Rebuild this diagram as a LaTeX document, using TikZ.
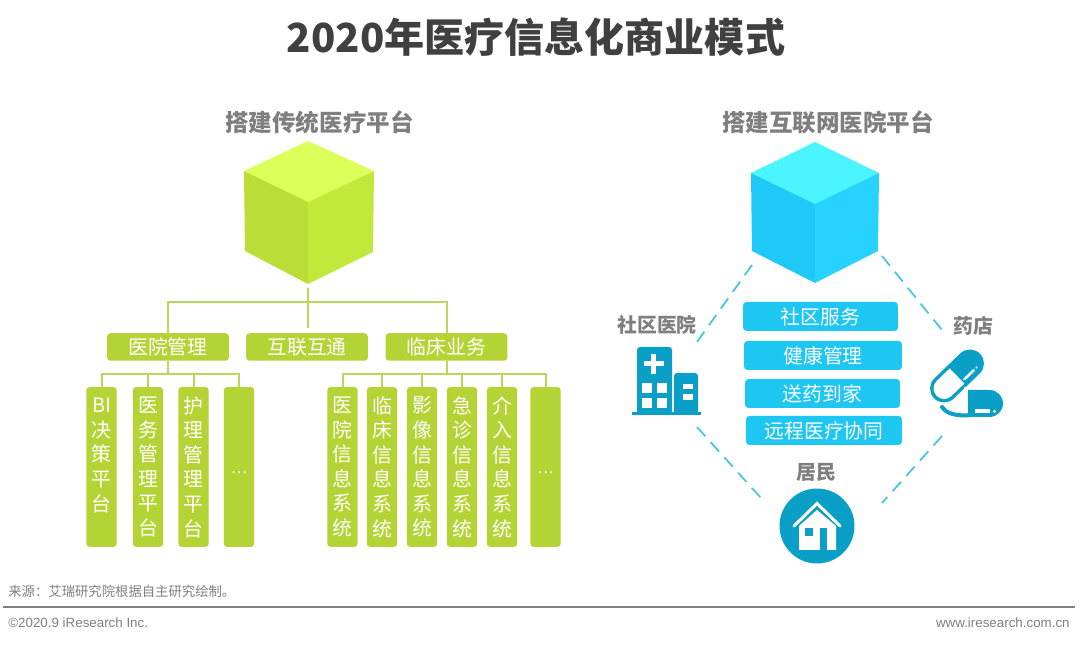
\documentclass[tikz,border=0pt]{standalone}
\usepackage{fontspec}
\setmainfont{Noto Sans CJK SC}
\newfontfamily\latinfont{Liberation Sans}
\definecolor{lineGreen}{HTML}{B9D75A}
\definecolor{boxGreen}{HTML}{B4D334}
\definecolor{boxBlue}{HTML}{1EC6F2}
\definecolor{iconBlue}{HTML}{0A9FC6}
\definecolor{dashBlue}{HTML}{45C4E4}
\definecolor{headGray}{HTML}{7F7F7F}
\tikzset{
  boxtext/.style={text=white,font=\fontsize{11.3}{14}\selectfont,rounded corners=.07cm,inner sep=0pt},
  greenbox/.style={boxtext,fill=boxGreen,minimum width=2.44cm,minimum height=.55cm},
  bluebox/.style={boxtext,fill=boxBlue,minimum height=.58cm},
  barbox/.style={boxtext,fill=boxGreen,minimum width=.61cm,minimum height=3.2cm,align=center},
  headtext/.style={text=headGray,font=\fontsize{13.4}{16}\selectfont\bfseries,inner sep=0pt},
  icontext/.style={text=headGray,font=\fontsize{11.3}{14}\selectfont\bfseries,inner sep=0pt},
  treeline/.style={draw=lineGreen,line width=.04cm},
  dashlink/.style={draw=dashBlue,line width=.035cm,dash pattern=on .25cm off .16cm},
  pillstroke/.style={draw=iconBlue,line width=.08cm,line cap=round}
}
\newcommand{\bardots}{\raisebox{-.26cm}{\fontsize{8.5}{10}\selectfont …}}
\begin{document}
\begin{tikzpicture}[x=.02cm,y=-.02cm]
\useasboundingbox (0,0) rectangle (1080,651);
\fill[white] (0,0) rectangle (1080,651);

\draw(536,37) node(title)[text=black!75,font=\fontsize{22.8}{27}\selectfont\bfseries,inner sep=0pt]{2020年医疗信息化商业模式};
\draw(319.5,122) node(leftHead)[headtext]{搭建传统医疗平台};
\draw(828,122) node(rightHead)[headtext]{搭建互联网医院平台};

\coordinate (gTop) at (308,141);\coordinate (gLeft) at (244,171);\coordinate (gRight) at (374,171);
\coordinate (gMid) at (308,202);\coordinate (gLow) at (245,251);\coordinate (gBot) at (308,284);\coordinate (gHigh) at (373,252);
\fill[color={rgb,255:red,220;green,255;blue,90}] (gTop)--(gRight)--(gMid)--(gLeft)--cycle;
\fill[color={rgb,255:red,186;green,221;blue,56}] (gLeft)--(gMid)--(gBot)--(gLow)--cycle;
\fill[color={rgb,255:red,195;green,232;blue,60}] (gRight)--(gMid)--(gBot)--(gHigh)--cycle;

\coordinate (bTop) at (815,142);\coordinate (bLeft) at (751,173);\coordinate (bRight) at (879,173);
\coordinate (bMid) at (815,204);\coordinate (bLow) at (752,251);\coordinate (bBot) at (815,283);\coordinate (bHigh) at (878,251);
\fill[color={rgb,255:red,75;green,245;blue,255}] (bTop)--(bRight)--(bMid)--(bLeft)--cycle;
\fill[color={rgb,255:red,31;green,201;blue,247}] (bLeft)--(bMid)--(bBot)--(bLow)--cycle;
\fill[color={rgb,255:red,38;green,210;blue,255}] (bRight)--(bMid)--(bBot)--(bHigh)--cycle;

\draw(168,347) node(mgmt)[greenbox]{医院管理};
\draw(307,347) node(link)[greenbox]{互联互通};
\draw(446.5,347) node(clinic)[greenbox]{临床业务};

\draw(101.5,467) node(barA)[barbox]{BI\\决\\策\\平\\台\\~};
\draw(148,467) node(barB)[barbox]{医\\务\\管\\理\\平\\台};
\draw(193.5,467) node(barC)[barbox]{护\\理\\管\\理\\平\\台};
\draw(239,467) node(barD)[barbox]{\bardots};
\draw(342.5,467) node(barE)[barbox]{医\\院\\信\\息\\系\\统};
\draw(382,467) node(barF)[barbox]{临\\床\\信\\息\\系\\统};
\draw(422,467) node(barG)[barbox]{影\\像\\信\\息\\系\\统};
\draw(462,467) node(barH)[barbox]{急\\诊\\信\\息\\系\\统};
\draw(502,467) node(barI)[barbox]{介\\入\\信\\息\\系\\统};
\draw(545.5,467) node(barJ)[barbox]{\bardots};

\coordinate (treeTop) at (308,288);\coordinate (treeHub) at (308,302.5);\coordinate (treeEnd) at (308,328);
\coordinate (mgmtHub) at (168,374);\coordinate (clinicHub) at (446.5,374);
\draw[treeline] (treeTop)--(treeEnd);
\draw[treeline] (mgmt.north)|-(treeHub);
\draw[treeline] (clinic.north)|-(treeHub);
\draw[treeline] (mgmt.south)--(mgmtHub);
\draw[treeline] (clinic.south)--(clinicHub);
\draw[treeline] (barA.north)|-(mgmtHub);
\draw[treeline] (barB.north)|-(mgmtHub);
\draw[treeline] (barC.north)|-(mgmtHub);
\draw[treeline] (barD.north)|-(mgmtHub);
\draw[treeline] (barE.north)|-(clinicHub);
\draw[treeline] (barF.north)|-(clinicHub);
\draw[treeline] (barG.north)|-(clinicHub);
\draw[treeline] (barH.north)|-(clinicHub);
\draw[treeline] (barI.north)|-(clinicHub);
\draw[treeline] (barJ.north)|-(clinicHub);

\draw(820.5,316.5) node(svcA)[bluebox,minimum width=3.1cm]{社区服务};
\draw(823,355.5) node(svcB)[bluebox,minimum width=3.16cm]{健康管理};
\draw(822.5,393.5) node(svcC)[bluebox,minimum width=3.1cm]{送药到家};
\draw(824,430.5) node(svcD)[bluebox,minimum width=3.12cm]{远程医疗协同};

\draw(657,325) node(clinicHead)[icontext]{社区医院};
\draw(973,326) node(pharmHead)[icontext]{药店};
\draw(816,472) node(homeHead)[icontext]{居民};

\coordinate (dashA) at (752,265);\coordinate (dashB) at (697,342);
\coordinate (dashC) at (882,256);\coordinate (dashD) at (942,330);
\coordinate (dashE) at (697,427);\coordinate (dashF) at (761,498);
\coordinate (dashG) at (942,436);\coordinate (dashH) at (882,503);
\draw[dashlink] (dashA)--(dashB);
\draw[dashlink] (dashC)--(dashD);
\draw[dashlink] (dashE)--(dashF);
\draw[dashlink] (dashG)--(dashH);

\fill[iconBlue,rounded corners=.06cm] (637,414)--(637,347)--(672,347)--(672,414)--cycle;
\fill[iconBlue,rounded corners=.06cm] (674,414)--(674,373)--(698,373)--(698,414)--cycle;
\fill[iconBlue] (632,412) rectangle (701,415.5);
\fill[white] (651,354) rectangle (656,374);
\fill[white] (643.5,361.5) rectangle (663.5,366.5);
\fill[white] (642,383) rectangle (652,393);
\fill[white] (657,383) rectangle (667,393);
\fill[white] (642,398) rectangle (652,408);
\fill[white] (657,398) rectangle (667,408);
\fill[white] (683,384) rectangle (693,389);
\fill[white] (683,394) rectangle (693,400);

\begin{scope}[shift={(957,376)},rotate=44]
\draw[iconBlue,line width=.56cm,line cap=round] (-18,0)--(18,0);
\draw[white,line width=.42cm,line cap=round] (-18,0)--(-17.9,0);
\draw[white,line width=.42cm] (-18,0)--(0,0);
\draw[white,line width=.05cm,line cap=round] (3,7.5)--(16,7.5);
\fill[white] (20,7.5) circle[radius=.025cm];
\end{scope}
\fill[white] (964,387)--(989.5,387) arc[start angle=90,end angle=-90,radius=.33cm]--(964,420)--cycle;
\fill[iconBlue] (968,390)--(989.5,390) arc[start angle=90,end angle=-90,radius=.27cm]--(968,417)--cycle;
\draw[pillstroke] (942,407) .. controls (947,414) and (955,415.5) .. (968,415.5);
\fill[white] (975,409.5) rectangle (990,413);
\fill[white] (994.5,411.5) circle[radius=.035cm];

\draw(817,526) node(homeDisc)[circle,fill=iconBlue,minimum size=1.5cm,inner sep=0pt]{};
\fill[white] (799,526)--(817,510)--(836,526)--(836,550)--(799,550)--cycle;
\draw[white,line width=.06cm,line cap=round] (794,526)--(817,503.5)--(840,526);
\fill[iconBlue] (805,528) rectangle (813,536);
\fill[iconBlue] (820,528) rectangle (827,550);

\draw(8,591) node(source)[anchor=west,text=headGray,font=\fontsize{7.6}{9}\selectfont,inner sep=0pt]{来源：艾瑞研究院根据自主研究绘制。};
\coordinate (ruleL) at (3,607);\coordinate (ruleR) at (1075,607);
\draw[color=gray,line width=.035cm] (ruleL)--(ruleR);
\draw(8,623) node(copyr)[anchor=west,text=headGray,font=\fontsize{7.6}{9}\selectfont\latinfont,inner sep=0pt]{©2020.9 iResearch Inc.};
\draw(1070,623) node(site)[anchor=east,text=headGray,font=\fontsize{7.6}{9}\selectfont\latinfont,inner sep=0pt]{www.iresearch.com.cn};
\end{tikzpicture}
\end{document}
